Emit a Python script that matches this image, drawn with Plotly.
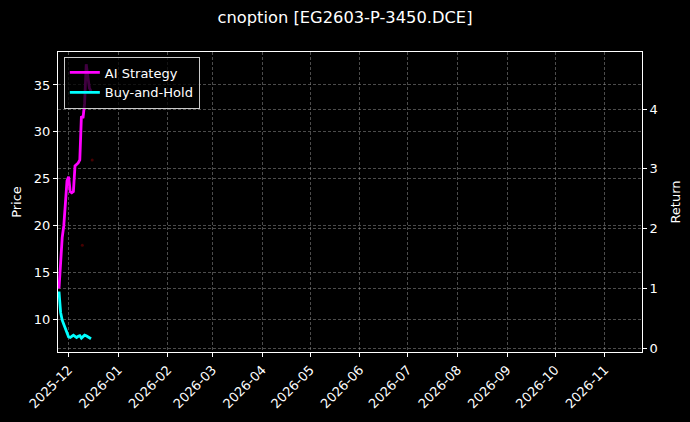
import pandas as pd
import plotly.graph_objects as go

# ---------------------------- Data -------------------------------------------------- #

dates = pd.date_range("2025-11-25", "2025-12-15", freq="D")

ai_strategy = [1.0, 1.5, 1.85, 2.05, 2.4, 2.8, 2.87, 2.62, 2.6, 2.62, 3.05,
               3.07, 3.1, 3.15, 3.88, 3.85, 4.1, 4.75, 4.5, 4.35, 4.3]
buy_and_hold = [0.95, 0.6, 0.47, 0.39, 0.32, 0.26, 0.19, 0.18, 0.2, 0.22, 0.2,
                0.18, 0.2, 0.21, 0.17, 0.2, 0.22, 0.21, 0.19, 0.18, 0.16]

# faint price marks
price_dates = ["2025-12-09 14:00", "2025-12-15 18:00"]
price_values = [17.9, 27.0]

title = "cnoption [EG2603-P-3450.DCE]"

# ---------------------------- Build figure ------------------------------- #

fig = go.Figure()

fig.add_trace(go.Scatter(x=price_dates, y=price_values, mode="markers",
                         marker=dict(color="rgba(200,0,0,0.35)", size=3),
                         showlegend=False, yaxis="y"))

fig.add_trace(go.Scatter(x=dates, y=ai_strategy, mode="lines", name="AI Strategy",
                         line=dict(color="#ff00ff", width=2.8), yaxis="y2"))
fig.add_trace(go.Scatter(x=dates, y=buy_and_hold, mode="lines", name="Buy-and-Hold",
                         line=dict(color="#00ffff", width=2.8), yaxis="y2"))

grid = "rgba(150,150,150,0.5)"
font = dict(family="DejaVu Sans", color="white", size=13)
axis_style = dict(showgrid=True, gridcolor=grid, griddash="3px,2px", gridwidth=0.6,
                  ticks="outside", ticklen=4, tickcolor="white", zeroline=False,
                  automargin=False, tickfont=dict(size=13))

fig.update_layout(
    width=690, height=422,
    paper_bgcolor="black", plot_bgcolor="black",
    font=font,
    margin=dict(l=58, r=48, t=52, b=70),
    title=dict(text=title, x=0.5, xanchor="center", y=0.96, yanchor="middle",
               font=dict(size=16.3, color="white")),
    xaxis=dict(range=["2025-11-24 09:00", "2026-11-24 07:00"],
               dtick="M1", tick0="2025-12-01", tickformat="%Y-%m", tickangle=-45,
               showline=True, linecolor="white", linewidth=1.2, mirror=True,
               **axis_style),
    yaxis=dict(title=dict(text="Price", font=dict(size=13), standoff=9), range=[6.51, 38.52],
               tickvals=[10, 15, 20, 25, 30, 35],
               showline=True, linecolor="white", linewidth=1.2, mirror=True,
               **axis_style),
    yaxis2=dict(title=dict(text="Return", font=dict(size=13), standoff=14), range=[-0.062, 4.955],
                overlaying="y", side="right", tickvals=[0, 1, 2, 3, 4],
                **axis_style),
    legend=dict(x=0.01, y=0.985, xanchor="left", yanchor="top",
                bgcolor="rgba(0,0,0,0.75)", bordercolor="#cccccc", borderwidth=1,
                font=dict(size=13, color="white")),
)

fig.write_html("out.html", config={"displayModeBar": False},
               post_script="document.body.style.margin='0px';")
